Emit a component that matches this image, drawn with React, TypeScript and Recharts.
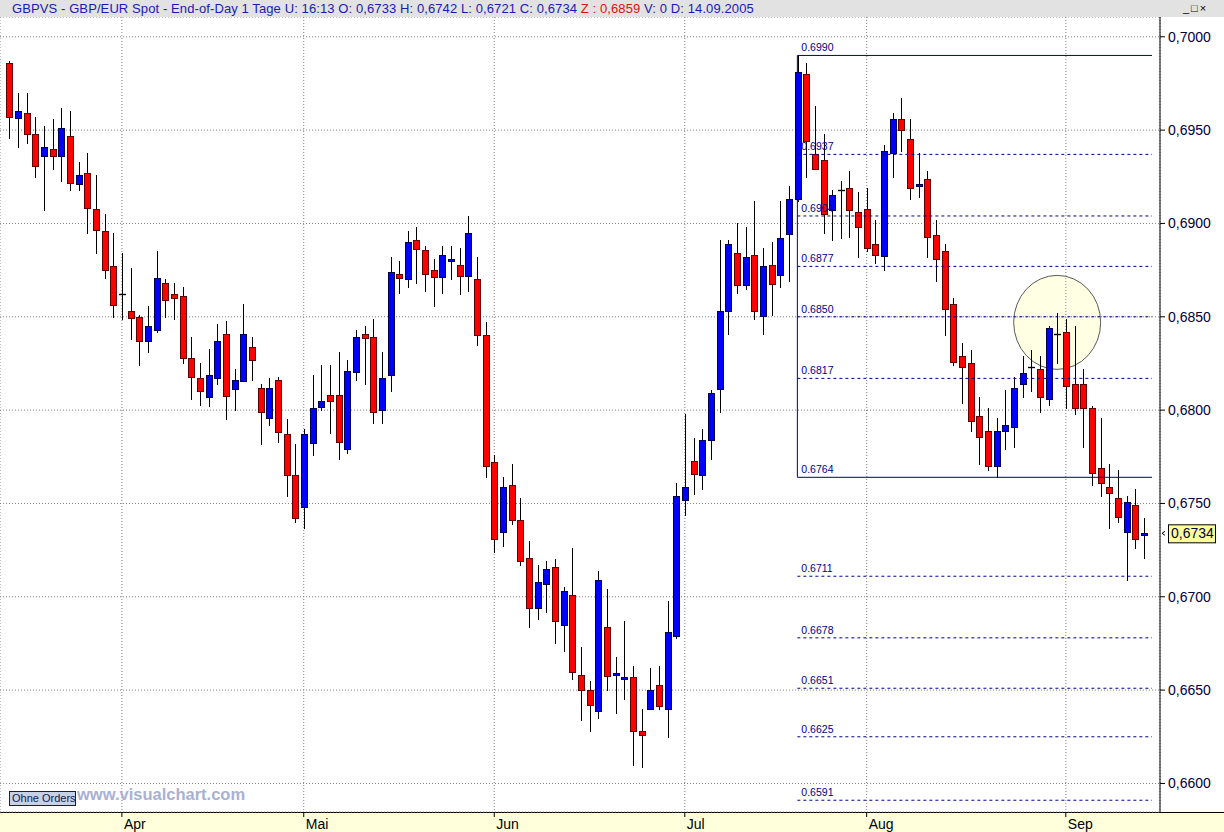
import React from "react";
import {
  ComposedChart,
  Bar,
  XAxis,
  YAxis,
  CartesianGrid,
  ReferenceLine,
  ReferenceDot,
} from "recharts";

// GBP/EUR daily candles, 15.03.2005 - 14.09.2005 (weekdays)
const OPEN = [
  0.6986, 0.6956, 0.6959, 0.6948, 0.6936, 0.694, 0.6936, 0.6947, 0.6921, 0.6927,
  0.6908, 0.6896, 0.6877, 0.6862, 0.6853, 0.685, 0.6837, 0.6843, 0.6868, 0.6862,
  0.6861, 0.6828, 0.6817, 0.6807, 0.6817, 0.6841, 0.6811, 0.6816, 0.6834, 0.6812,
  0.6796, 0.6816, 0.6787, 0.6765, 0.6748, 0.6782, 0.6802, 0.6808, 0.6808, 0.6779,
  0.682, 0.6841, 0.6839, 0.68, 0.6819, 0.6873, 0.687, 0.6891, 0.6886, 0.6875,
  0.6871, 0.688, 0.6878, 0.6872, 0.687, 0.684, 0.6772, 0.6735, 0.676, 0.6741,
  0.6721, 0.6694, 0.6707, 0.6716, 0.6685, 0.6701, 0.6658, 0.665, 0.6639, 0.6684,
  0.6658, 0.6656, 0.6657, 0.6628, 0.664, 0.6653, 0.664, 0.6679, 0.6752, 0.6773,
  0.6765, 0.6784, 0.6811, 0.6853, 0.6884, 0.6867, 0.6883, 0.685, 0.6878, 0.6872,
  0.6894, 0.6913, 0.698, 0.6937, 0.6934, 0.6907, 0.6918, 0.6919, 0.6906, 0.6908,
  0.6889, 0.6883, 0.6938, 0.6956, 0.6945, 0.692, 0.6924, 0.6894, 0.6885, 0.6857,
  0.6829, 0.6825, 0.6797, 0.6789, 0.677, 0.6789, 0.6791, 0.6814, 0.6823, 0.6822,
  0.6806, 0.6841, 0.6842, 0.6814, 0.6814, 0.6801, 0.6769, 0.6759, 0.6753, 0.6735,
  0.6749, 0.6733,
];
const HIGH = [
  0.6987, 0.697, 0.697, 0.6957, 0.6952, 0.6956, 0.6962, 0.696, 0.6933, 0.6938,
  0.6926, 0.6905, 0.6895, 0.6884, 0.6876, 0.6851, 0.6856, 0.6885, 0.687, 0.6868,
  0.6866, 0.6839, 0.6825, 0.6833, 0.6846, 0.6848, 0.6822, 0.6857, 0.6839, 0.6814,
  0.6817, 0.6818, 0.6795, 0.6782, 0.679, 0.6819, 0.6824, 0.6824, 0.6831, 0.6827,
  0.6843, 0.6845, 0.6849, 0.6831, 0.6882, 0.688, 0.6896, 0.6898, 0.6888, 0.6881,
  0.6888, 0.6888, 0.6887, 0.6904, 0.6882, 0.6847, 0.6776, 0.6764, 0.6771, 0.6753,
  0.673, 0.6717, 0.6719, 0.672, 0.6705, 0.6726, 0.6673, 0.6655, 0.6714, 0.6704,
  0.6668, 0.6687, 0.6663, 0.664, 0.6662, 0.6663, 0.6698, 0.6761, 0.6798, 0.6785,
  0.679, 0.6811, 0.6891, 0.6891, 0.69, 0.6898, 0.6912, 0.6887, 0.689, 0.6912,
  0.692, 0.699, 0.6986, 0.6963, 0.6948, 0.6918, 0.6923, 0.6928, 0.6917, 0.6919,
  0.6902, 0.6942, 0.6959, 0.6967, 0.6956, 0.6938, 0.6928, 0.6902, 0.6889, 0.686,
  0.6836, 0.6832, 0.6807, 0.6801, 0.6796, 0.6811, 0.6818, 0.6829, 0.6832, 0.6829,
  0.6845, 0.6852, 0.6849, 0.6845, 0.6822, 0.6802, 0.6796, 0.6771, 0.6768, 0.6754,
  0.6758, 0.6742,
];
const LOW = [
  0.6946, 0.6941, 0.6943, 0.6925, 0.6907, 0.6929, 0.6923, 0.6918, 0.6918, 0.6895,
  0.6884, 0.6871, 0.685, 0.6849, 0.6838, 0.6824, 0.6831, 0.6842, 0.685, 0.6849,
  0.6825, 0.6806, 0.6803, 0.6802, 0.6814, 0.6795, 0.68, 0.6816, 0.6816, 0.6782,
  0.6792, 0.6783, 0.6754, 0.674, 0.6737, 0.6776, 0.68, 0.6788, 0.6774, 0.6777,
  0.6816, 0.6814, 0.6793, 0.6793, 0.681, 0.6863, 0.6866, 0.6868, 0.6864, 0.6856,
  0.6863, 0.687, 0.6862, 0.6864, 0.6835, 0.6764, 0.6724, 0.6727, 0.6739, 0.6717,
  0.6684, 0.6688, 0.6692, 0.6675, 0.6671, 0.6656, 0.6634, 0.6628, 0.6635, 0.665,
  0.6638, 0.6645, 0.661, 0.6609, 0.664, 0.664, 0.6625, 0.6678, 0.6744, 0.6755,
  0.6758, 0.6774, 0.6799, 0.6841, 0.6863, 0.6865, 0.6849, 0.6841, 0.6851, 0.6866,
  0.6869, 0.6912, 0.6925, 0.6929, 0.6895, 0.6891, 0.6892, 0.6893, 0.6882, 0.6885,
  0.6879, 0.6875, 0.6925, 0.6939, 0.6913, 0.6914, 0.6882, 0.6869, 0.684, 0.6824,
  0.6804, 0.6789, 0.6771, 0.6768, 0.6764, 0.6779, 0.678, 0.6807, 0.681, 0.6799,
  0.6803, 0.6825, 0.6801, 0.6798, 0.678, 0.676, 0.6754, 0.6737, 0.674, 0.6709,
  0.6726, 0.6721,
];
const CLOSE = [
  0.6957, 0.696, 0.6948, 0.6931, 0.6941, 0.6936, 0.6951, 0.6922, 0.6926, 0.6908,
  0.6897, 0.6875, 0.6856, 0.6862, 0.6849, 0.6837, 0.6845, 0.6871, 0.6859, 0.686,
  0.6828, 0.6818, 0.681, 0.6819, 0.6837, 0.6808, 0.6816, 0.6841, 0.6827, 0.6799,
  0.6812, 0.6788, 0.6765, 0.6742, 0.6787, 0.6801, 0.6805, 0.6805, 0.6783, 0.6821,
  0.6839, 0.6839, 0.6799, 0.6817, 0.6874, 0.6871, 0.689, 0.6886, 0.6873, 0.6871,
  0.6883, 0.6881, 0.6872, 0.6895, 0.684, 0.677, 0.6731, 0.6759, 0.6741, 0.6719,
  0.6694, 0.6708, 0.6715, 0.6687, 0.6703, 0.666, 0.665, 0.6642, 0.6709, 0.6658,
  0.6659, 0.6657, 0.6628, 0.6626, 0.665, 0.6642, 0.6681, 0.6754, 0.6759, 0.6766,
  0.6784, 0.6809, 0.6853, 0.6889, 0.6867, 0.6882, 0.6853, 0.6877, 0.6868, 0.6892,
  0.6913, 0.6981, 0.6944, 0.6929, 0.6905, 0.6915, 0.6918, 0.6907, 0.6898, 0.6887,
  0.6883, 0.6939, 0.6956, 0.695, 0.6919, 0.6921, 0.6893, 0.6881, 0.6854, 0.6826,
  0.6823, 0.6794, 0.6786, 0.677, 0.6789, 0.6792, 0.6812, 0.682, 0.6823, 0.6807,
  0.6844, 0.6841, 0.6813, 0.6801, 0.6801, 0.6766, 0.6761, 0.6756, 0.6743, 0.6751,
  0.6731, 0.6734,
];

// first trading day of each month (candle index) and its label
const MONTH_TICKS = [13, 34, 56, 78, 99, 122];
const MONTH_LABELS = ["Apr", "Mai", "Jun", "Jul", "Aug", "Sep"];

const PRICE_TICKS = [0.66, 0.665, 0.67, 0.675, 0.68, 0.685, 0.69, 0.695, 0.7];

// Fibonacci levels drawn from the 0.6990 high to the 0.6764 low
const FIB_LEVELS = [
  0.699, 0.6937, 0.6904, 0.6877, 0.685, 0.6817, 0.6764, 0.6711, 0.6678, 0.6651,
  0.6625, 0.6591,
];
const FIB_SOLID = [0.699, 0.6764];
const FIB_FROM = 91;
const FIB_TO = 131.95;

const LAST_PRICE = 0.6734;
const MARK_X = 121;
const MARK_Y = 0.6847;

const X_MIN = -1.074;
const X_MAX = 132.875;
const Y_MIN = 0.65847;
const Y_MAX = 0.70106;

const FONT = "'Liberation Sans', Arial, sans-serif";
const NAVY = "#000088";

const data = OPEN.map((o, i) => ({
  i,
  open: o,
  high: HIGH[i],
  low: LOW[i],
  close: CLOSE[i],
  range: [LOW[i], HIGH[i]],
}));

function Candle(props: any) {
  const { x, y, width, height, payload } = props;
  if (x == null || y == null) return null;
  const top = Math.min(y, y + height);
  const h = Math.abs(height);
  const { open, close, high, low } = payload;
  const span = high - low;
  const py = (v: number) => (span === 0 ? top : top + ((high - v) / span) * h);
  const left = Math.round(x + width / 2 - 3) + 0.5;
  const wx = left + 3;
  const bTop = py(Math.max(open, close));
  const bBot = py(Math.min(open, close));
  const wick = (
    <line x1={wx} x2={wx} y1={Math.round(top)} y2={Math.round(top + h) + 1} stroke="#000" strokeWidth={1} />
  );
  if (open === close) {
    const ly = Math.round(bTop) + 0.5;
    return (
      <g>
        {wick}
        <line x1={left - 0.5} x2={left + 6.5} y1={ly} y2={ly} stroke="#000" strokeWidth={1.4} />
      </g>
    );
  }
  const up = close > open;
  const by = Math.round(bTop) + 0.5;
  const bh = Math.max(1, Math.round(bBot - bTop));
  return (
    <g>
      {wick}
      <rect
        x={left}
        y={by}
        width={6}
        height={bh}
        fill={up ? "#0000ff" : "#ff0000"}
        stroke={up ? "#000050" : "#600000"}
        strokeWidth={1}
      />
    </g>
  );
}

function MonthTick(props: any) {
  const { x, y, payload } = props;
  const k = MONTH_TICKS.indexOf(payload.value);
  return (
    <text x={x + 2} y={y + 10} fill="#000" fontSize={14} fontFamily={FONT} textAnchor="start">
      {MONTH_LABELS[k]}
    </text>
  );
}

function FibLabel(value: number) {
  return (props: any) => {
    const vb = props.viewBox || {};
    return (
      <text x={vb.x + 4} y={vb.y - 4} fill={NAVY} fontSize={10.5} fontFamily={FONT}>
        {value.toFixed(4)}
      </text>
    );
  };
}

function Highlight(props: any) {
  const { cx, cy } = props;
  return (
    <ellipse cx={cx} cy={cy} rx={43.5} ry={47} fill="#ffff99" fillOpacity={0.28} stroke="#303030" strokeWidth={0.8} />
  );
}

function PriceTag(props: any) {
  const { cx, cy } = props;
  return (
    <g>
      <path d={`M ${cx + 5} ${cy - 2} L ${cx + 2} ${cy} L ${cx + 5} ${cy + 2}`} fill="none" stroke="#000" strokeWidth={1} />
      <rect x={cx + 8.5} y={cy - 8.5} width={47} height={18} fill="#ffff9c" stroke="#000" strokeWidth={1} />
      <text x={cx + 11} y={cy + 5} fill="#000040" fontSize={14} fontFamily={FONT}>
        {LAST_PRICE.toFixed(4).replace(".", ",")}
      </text>
    </g>
  );
}

export default function App() {
  return (
    <div
      style={{
        position: "absolute",
        left: 0,
        top: 0,
        width: 1224,
        height: 832,
        background: "#fff",
        overflow: "hidden",
        fontFamily: FONT,
      }}
    >
      <div
        style={{
          position: "absolute",
          left: 0,
          top: 812,
          width: 1224,
          height: 20,
          background: "#ffffdc",
          borderTop: "1px solid #000",
          boxSizing: "border-box",
        }}
      />
      <div style={{ position: "absolute", left: 0, top: 0 }}>
        <ComposedChart width={1224} height={832} data={data} margin={{ top: 17, right: 0, bottom: 0, left: 0 }}>
          <CartesianGrid stroke="#808080" strokeDasharray="1 2" />
          <XAxis
            type="number"
            dataKey="i"
            domain={[X_MIN, X_MAX]}
            allowDataOverflow
            ticks={MONTH_TICKS}
            interval={0}
            height={20}
            axisLine={false}
            tickSize={5}
            tickLine={{ stroke: "#000" }}
            tick={<MonthTick />}
          />
          <YAxis
            orientation="right"
            domain={[Y_MIN, Y_MAX]}
            allowDataOverflow
            ticks={PRICE_TICKS}
            interval={0}
            width={64}
            tickSize={5}
            tickMargin={3}
            axisLine={{ stroke: "#000" }}
            tickLine={{ stroke: "#000" }}
            tick={{ fill: "#000040", fontSize: 14, fontFamily: FONT }}
            tickFormatter={(v: number) => v.toFixed(4).replace(".", ",")}
          />
          <ReferenceDot
            x={MARK_X}
            y={MARK_Y}
            r={45}
            shape={Highlight}
            ifOverflow="visible"
            {...({ zIndex: -150 } as any)}
          />
          {FIB_LEVELS.map((lv) => (
            <ReferenceLine
              key={lv}
              segment={[
                { x: FIB_FROM, y: lv },
                { x: FIB_TO, y: lv },
              ]}
              stroke={NAVY}
              strokeWidth={1}
              strokeDasharray={FIB_SOLID.includes(lv) ? undefined : "3 3"}
              ifOverflow="visible"
              label={FibLabel(lv)}
            />
          ))}
          <ReferenceLine
            segment={[
              { x: FIB_FROM, y: FIB_SOLID[0] },
              { x: FIB_FROM, y: FIB_SOLID[1] },
            ]}
            stroke={NAVY}
            strokeWidth={1}
            ifOverflow="visible"
          />
          <Bar dataKey="range" barSize={7} shape={Candle} isAnimationActive={false} />
          <ReferenceDot x={X_MAX} y={LAST_PRICE} r={1} shape={PriceTag} ifOverflow="visible" />
        </ComposedChart>
      </div>
      <div
        style={{
          position: "absolute",
          left: 0,
          top: 0,
          width: 1224,
          height: 17,
          background: "#e2e2e2",
          fontSize: 13,
          letterSpacing: 0.1,
          lineHeight: "17px",
          whiteSpace: "nowrap",
        }}
      >
        <span style={{ position: "absolute", left: 12, color: "#1a1ab4" }}>
          GBPVS - GBP/EUR Spot - End-of-Day 1 Tage U: 16:13 O: 0,6733 H: 0,6742 L: 0,6721 C: 0,6734{" "}
          <span style={{ color: "#e01010" }}>Z : 0,6859</span> V: 0 D: 14.09.2005
        </span>
        <span style={{ position: "absolute", left: 1183, top: 0, color: "#000", fontSize: 11, letterSpacing: 2 }}>
          _□×
        </span>
      </div>
      <div
        style={{
          position: "absolute",
          left: 9,
          top: 791,
          width: 67,
          height: 15,
          background: "#c6d1e6",
          border: "1px solid #202020",
          boxSizing: "border-box",
          fontSize: 11,
          lineHeight: "13px",
          color: "#102050",
          paddingLeft: 2,
          whiteSpace: "nowrap",
        }}
      >
        Ohne Orders
      </div>
      <div
        style={{
          position: "absolute",
          left: 77,
          top: 785,
          fontSize: 16.5,
          fontWeight: "bold",
          color: "#a9b1d3",
          whiteSpace: "nowrap",
        }}
      >
        www.visualchart.com
      </div>
    </div>
  );
}
